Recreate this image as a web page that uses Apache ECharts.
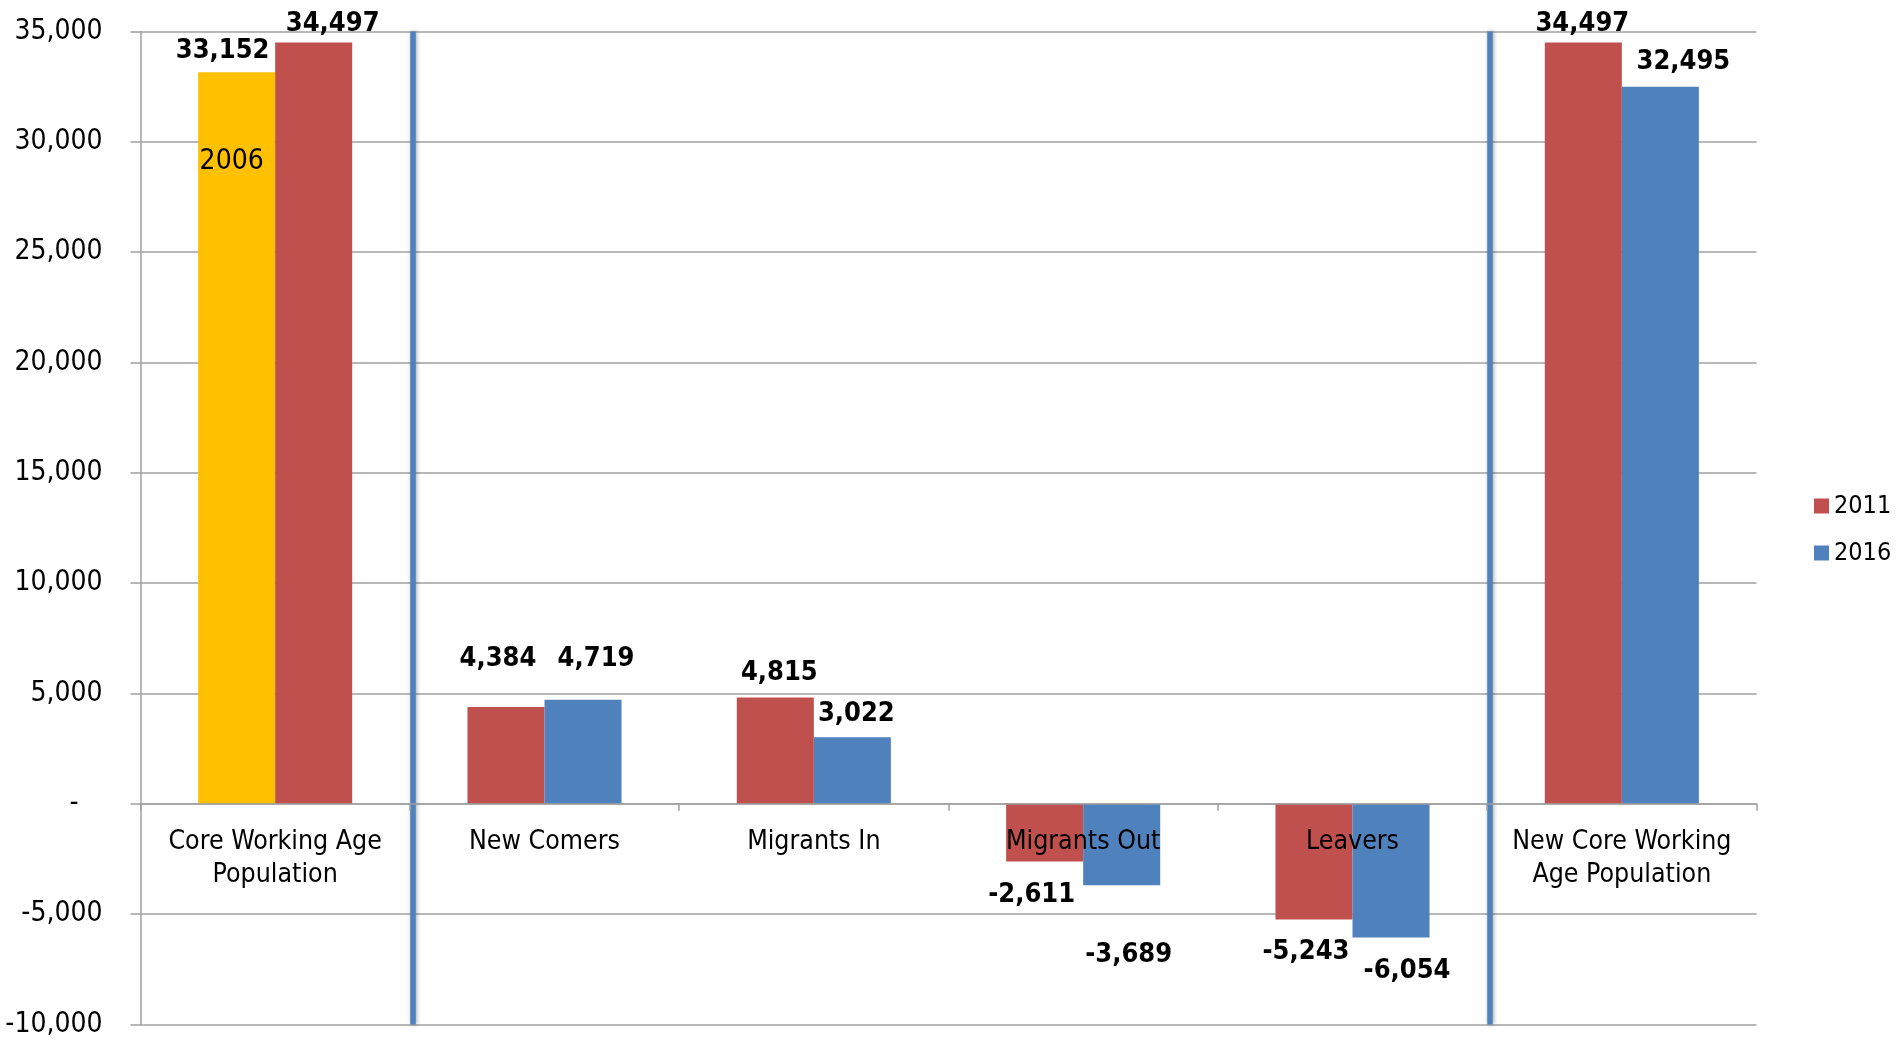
<!DOCTYPE html>
<html>
<head>
<meta charset="utf-8">
<script src="https://cdn.jsdelivr.net/npm/echarts@6/dist/echarts.min.js"></script>
<style>
html,body{margin:0;padding:0;background:#fff;}
#chart{width:1899px;height:1040px;}
</style>
</head>
<body>
<div id="chart"></div>
<script>
// ---- data ----
const categories = ['Core Working Age\nPopulation', 'New Comers', 'Migrants In', 'Migrants Out', 'Leavers', 'New Core Working\nAge Population'];
// left bar of each group (first group: 2006, others: 2011)
const leftValues = [33152, 4384, 4815, -2611, -5243, 34497];
// right bar of each group (first group: 2011, others: 2016)
const rightValues = [34497, 4719, 3022, -3689, -6054, 32495];
const legendNames = ['2011', '2016'];
const firstGroupYears = ['2006', '2011'];
const separators = [1, 5]; // category boundaries with vertical lines
const yTicks = { min: -10000, max: 35000, interval: 5000 };

// ---- style ----
const FONT = '"DejaVu Sans Condensed", "DejaVu Sans", sans-serif';
const RED = '#C0504D', BLUE = '#4F81BD', YELLOW = '#FFC000', GRID = '#a0a0a0';
const leftOffsets = [[-14, 3], [-8, -24], [4, -1], [-13, 4], [-8, 3], [-1, 5]];
const rightOffsets = [[19, 5], [13, -17], [4, 1], [7, 40], [16, 4], [23, -1]];
const GRID_TOP = 31.5, GRID_BOTTOM = 15.5, CHART_H = 1040;
const plotH = CHART_H - GRID_TOP - GRID_BOTTOM;
const zeroShift = plotH * (0 - yTicks.min) / (yTicks.max - yTicks.min);
const sepShift = 0.011; // separators drawn slightly right of the boundary

const fmt = v => v.toLocaleString('en-US');

function items(values, offsets, firstColor) {
  return values.map((v, i) => {
    const it = {
      value: v,
      label: { position: v >= 0 ? 'top' : 'bottom', distance: v >= 0 ? 10.5 : 16, offset: offsets[i] }
    };
    if (i === 0) it.itemStyle = { color: firstColor };
    return it;
  });
}

const labelStyle = {
  show: true, color: '#000', fontFamily: FONT,
  fontWeight: 'bold', fontSize: 27,
  formatter: p => fmt(p.value)
};

const chart = echarts.init(document.getElementById('chart'));
chart.setOption({
  animation: false,
  backgroundColor: '#fff',
  grid: { left: 140.5, right: 142.5, top: GRID_TOP, bottom: GRID_BOTTOM, containLabel: false, outerBoundsMode: 'none' },
  legend: {
    orient: 'vertical', left: 1809, top: 488.5,
    itemWidth: 15, itemHeight: 15, itemGap: 22,
    icon: 'rect',
    data: legendNames,
    textStyle: { fontFamily: FONT, fontSize: 25, color: '#000' }
  },
  xAxis: [{
    type: 'category',
    data: categories,
    position: 'bottom',
    offset: -zeroShift,
    z: 5,
    axisLine: { onZero: false, lineStyle: { color: GRID, width: 1.5 } },
    axisTick: { show: true, length: 7, lineStyle: { color: GRID, width: 1.5 } },
    axisLabel: { interval: 0, margin: 22, color: '#000', fontFamily: FONT, fontSize: 26.5, lineHeight: 33 },
    splitLine: { show: false }
  }, {
    type: 'value', min: -sepShift, max: categories.length - sepShift, show: false
  }],
  yAxis: {
    type: 'value', min: yTicks.min, max: yTicks.max, interval: yTicks.interval,
    position: 'left',
    axisLine: { show: true, onZero: false, lineStyle: { color: GRID, width: 1.5 } },
    axisTick: { show: true, inside: false, length: 10, lineStyle: { color: GRID, width: 1.5 } },
    axisLabel: {
      margin: 38, color: '#000', fontFamily: FONT, fontSize: 28,
      formatter: v => v === 0 ? '-   ' : fmt(v)
    },
    splitLine: { show: true, lineStyle: { color: GRID, width: 1.5 } }
  },
  series: [{
    name: legendNames[0], type: 'bar', color: RED,
    barWidth: '28.6%', barGap: '0%',
    data: items(leftValues, leftOffsets, YELLOW),
    label: labelStyle,
    markPoint: {
      symbol: 'rect', symbolSize: 0, silent: true,
      label: { show: true, position: 'inside', offset: [-5, 0], color: '#000', fontFamily: FONT, fontSize: 28,
        formatter: firstGroupYears[0] },
      data: [{ coord: [0, 29120], value: firstGroupYears[0] }]
    }
  }, {
    name: legendNames[1], type: 'bar', color: BLUE,
    barWidth: '28.6%', barGap: '0%',
    data: items(rightValues, rightOffsets, RED),
    label: labelStyle
  }, {
    type: 'line', xAxisIndex: 1, yAxisIndex: 0, data: [], silent: true,
    markLine: {
      symbol: 'none', silent: true, animation: false,
      label: { show: false },
      lineStyle: { color: BLUE, width: 5.5, type: 'solid', shadowBlur: 4, shadowColor: 'rgba(0,0,0,0.35)', shadowOffsetX: 1 },
      data: separators.map(s => ({ xAxis: s }))
    }
  }]
});
</script>
</body>
</html>
